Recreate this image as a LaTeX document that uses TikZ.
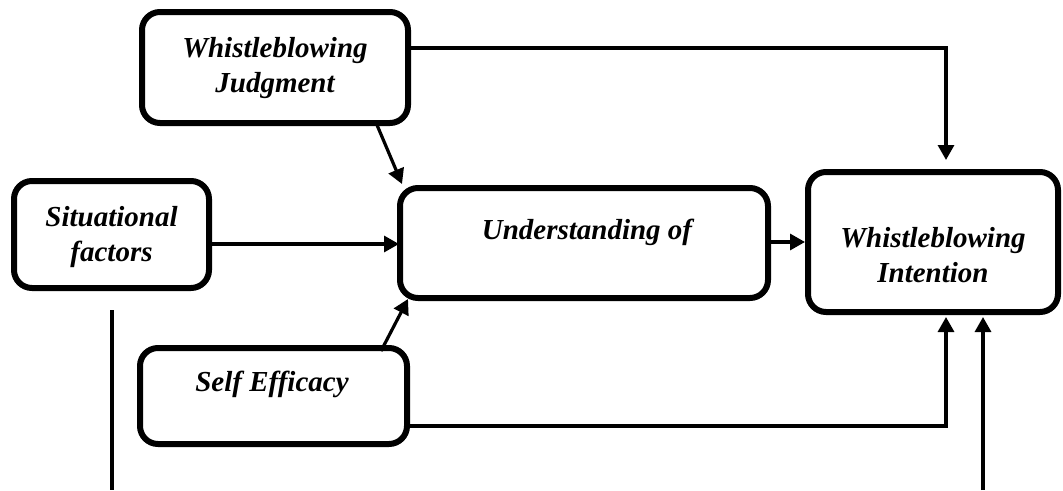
\documentclass[tikz,border=0pt]{standalone}
\usepackage{fontspec}
\setmainfont{Liberation Serif}
\usetikzlibrary{arrows.meta,calc}
\begin{document}
\begin{tikzpicture}[x=1pt,y=-1pt,
  box/.style={draw,line width=6pt,rounded corners=18pt,inner sep=0pt},
  lbl/.style={font=\fontsize{29}{35}\selectfont\bfseries\itshape,align=center,inner sep=0pt},
  conn/.style={line width=3.2pt,-{Triangle[length=15pt,width=16pt]}},
  plain/.style={line width=3.2pt}]
\useasboundingbox (0,0) rectangle (1063,490);
\node[box,minimum width=266pt,minimum height=111pt] (j) at (275,67.5) {};
\node[lbl] (jt) at (275,68) {Whistleblowing\\Judgment};
\node[box,minimum width=195pt,minimum height=107pt] (s) at (111.5,234.5) {};
\node[lbl] (st) at (111.5,237) {Situational\\factors};
\node[box,minimum width=368pt,minimum height=110pt] (u) at (584,243) {};
\node[lbl] (ut) at (587,232) {Understanding of};
\node[box,minimum width=250pt,minimum height=140pt] (i) at (933,242) {};
\node[lbl] (it) at (933,255) {Whistleblowing\\Intention};
\node[box,minimum width=267pt,minimum height=96pt] (e) at (273.5,396) {};
\node[lbl] (et) at (272,384) {Self Efficacy};
\coordinate (jr) at (408,48);
\coordinate (c1) at (946,48);
\coordinate (c1e) at (946,160);
\draw[conn] (j.east |- jr) -- (c1) -- (c1e);
\coordinate (jb) at (377,125);
\coordinate (ua) at (402,184);
\draw[conn] (jb) -- (ua);
\coordinate (sr) at (209,244);
\coordinate (ul) at (399,244);
\draw[conn] (sr) -- (ul);
\coordinate (eb) at (381,351);
\coordinate (ub) at (408,299);
\draw[conn] (eb) -- (ub);
\coordinate (ur) at (768,242);
\coordinate (il) at (805,242);
\draw[conn] (ur) -- (il);
\coordinate (er) at (407,426);
\coordinate (c2) at (946,426);
\coordinate (c2e) at (946,317);
\draw[conn] (er) -- (c2) -- (c2e);
\coordinate (b1) at (983,490);
\coordinate (b1e) at (983,317);
\draw[conn] (b1) -- (b1e);
\coordinate (v1) at (112,310);
\coordinate (v2) at (112,490);
\draw[plain] (v1) -- (v2);
\end{tikzpicture}
\end{document}
